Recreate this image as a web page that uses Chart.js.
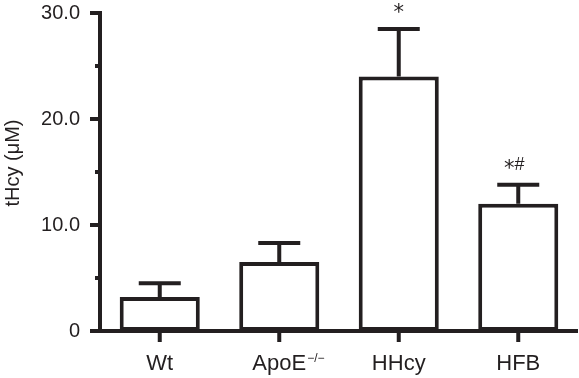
<!DOCTYPE html>
<html>
<head>
<meta charset="utf-8">
<script src="https://cdn.jsdelivr.net/npm/chart.js@4"></script>
<style>
  html, body { margin: 0; padding: 0; background: #fff; }
  #wrap { width: 579px; height: 378px; }
</style>
</head>
<body>
<div id="wrap"><canvas id="hcyChart" width="579" height="378"></canvas></div>
<script>
const groups = ['Wt', 'ApoE', 'HHcy', 'HFB'];
const groupSup = ['', '\u2212/\u2212', '', ''];
const means = [3.2, 6.5, 24.0, 12.0];
const sem = [1.3, 1.8, 4.5, 1.8];
const marks = ['', '', '*', '*#'];
const yTicks = [0, 10, 20, 30];
const yMinorTicks = [5, 15, 25];
const yTitle = 'tHcy (\u03bcM)';

const ink = '#231f20';
const font = '"Liberation Sans", Arial, sans-serif';
const starFont = '"DejaVu Sans", sans-serif';

const fmtTick = (v) => v === 0 ? '0' : v.toFixed(1);

// axes, ticks, error bars and significance marks
const extras = {
  id: 'extras',
  afterDatasetsDraw(chart) {
    const ctx = chart.ctx;
    const x = chart.scales.x, y = chart.scales.y;
    const area = chart.chartArea;
    const meta = chart.getDatasetMeta(0);
    ctx.save();
    ctx.strokeStyle = ink;
    ctx.fillStyle = ink;
    ctx.lineWidth = 4;
    ctx.lineCap = 'butt';

    // error bars (upper only)
    meta.data.forEach((bar, i) => {
      const top = y.getPixelForValue(means[i]);
      const hi = y.getPixelForValue(means[i] + sem[i]);
      ctx.beginPath();
      ctx.moveTo(bar.x, top);
      ctx.lineTo(bar.x, hi);
      ctx.moveTo(bar.x - 21, hi);
      ctx.lineTo(bar.x + 21, hi);
      ctx.stroke();
      if (marks[i]) {
        const chars = marks[i].split('');
        const fonts = chars.map(c => c === '*' ? '21px ' + starFont : '18px ' + font);
        const widths = chars.map((c, k) => { ctx.font = fonts[k]; return ctx.measureText(c).width; });
        const total = widths.reduce((a, b) => a + b, 0);
        let cx = bar.x - total / 2 - (chars.length > 1 ? 4 : 0);
        ctx.textAlign = 'left';
        ctx.textBaseline = 'alphabetic';
        chars.forEach((c, k) => {
          ctx.font = fonts[k];
          ctx.fillText(c, cx, c === '*' ? hi - 10 : hi - 15);
          cx += widths[k];
        });
      }
    });

    // y axis line and ticks
    const y0 = y.getPixelForValue(0);
    ctx.beginPath();
    ctx.moveTo(area.left, y.getPixelForValue(30) - 2);
    ctx.lineTo(area.left, y0 + 2);
    yTicks.forEach(v => {
      const p = y.getPixelForValue(v);
      ctx.moveTo(area.left - 10, p);
      ctx.lineTo(area.left, p);
    });
    yMinorTicks.forEach(v => {
      const p = y.getPixelForValue(v);
      ctx.moveTo(area.left - 5, p);
      ctx.lineTo(area.left, p);
    });
    // x axis line and ticks
    ctx.moveTo(area.left - 10, y0);
    ctx.lineTo(area.right, y0);
    groups.forEach((g, i) => {
      const p = x.getPixelForValue(i);
      ctx.moveTo(p, y0);
      ctx.lineTo(p, y0 + 11);
    });
    ctx.stroke();

    // superscripts on category labels
    groups.forEach((g, i) => {
      if (!groupSup[i]) return;
      ctx.font = '22px ' + font;
      const w = ctx.measureText(g).width;
      const p = x.getPixelForValue(i) + w / 2;
      ctx.font = '12px ' + font;
      ctx.textAlign = 'left';
      ctx.textBaseline = 'alphabetic';
      ctx.fillText(groupSup[i], p + 1, 362);
    });

    // y axis title
    ctx.translate(13, 163);
    ctx.rotate(-Math.PI / 2);
    ctx.font = '20px ' + font;
    ctx.textAlign = 'center';
    ctx.textBaseline = 'middle';
    ctx.fillText(yTitle, 0, 0);
    ctx.restore();
  }
};

new Chart(document.getElementById('hcyChart'), {
  type: 'bar',
  data: {
    labels: groups,
    datasets: [{
      data: means,
      backgroundColor: '#ffffff',
      borderColor: ink,
      borderWidth: 4,
      borderSkipped: false,
      barPercentage: 0.67,
      categoryPercentage: 1.0
    }]
  },
  options: {
    responsive: false,
    animation: false,
    layout: { padding: { left: 0, right: 1, top: 13, bottom: 0 } },
    plugins: { legend: { display: false }, tooltip: { enabled: false } },
    scales: {
      x: {
        grid: { display: false, drawTicks: false },
        border: { display: false },
        ticks: { color: ink, font: { family: font, size: 22 }, padding: 20, maxRotation: 0 },
        afterFit: (s) => { s.height = 47; }
      },
      y: {
        min: 0,
        max: 30,
        afterBuildTicks: (s) => { s.ticks = yTicks.map(v => ({ value: v })); },
        grid: { display: false, drawTicks: false },
        border: { display: false },
        ticks: { color: ink, font: { family: font, size: 20 }, padding: 20, callback: fmtTick },
        afterFit: (s) => { s.width = 100; s.paddingTop = 0; s.paddingBottom = 0; }
      }
    }
  },
  plugins: [extras]
});
</script>
</body>
</html>
